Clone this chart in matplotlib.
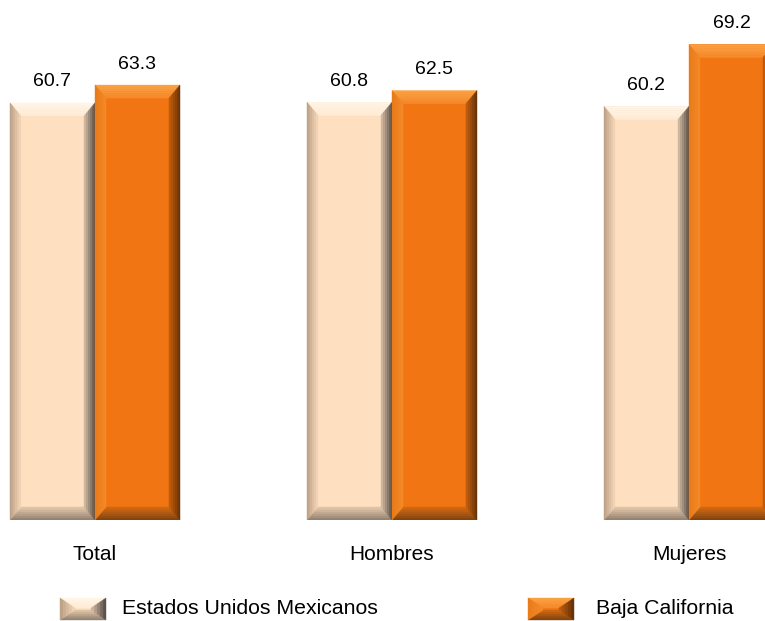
import numpy as np
import matplotlib
matplotlib.use("Agg")
import matplotlib.pyplot as plt
from matplotlib.patches import Polygon
from matplotlib.colors import to_rgb

plt.rcParams['font.family'] = ['Liberation Sans', 'DejaVu Sans']

# data
categories = ['Total', 'Hombres', 'Mujeres']
series_names = ['Estados Unidos Mexicanos', 'Baja California']
eum = [60.7, 60.8, 60.2]
bc = [63.3, 62.5, 69.2]

# colours: face, top, left, right, bottom (outer, inner)
light = dict(face='#FEE0C0',
             top=('#FFF6E8', '#FFEBD4'), left=('#B89C82', '#F6D8B8'),
             right=('#4E4640', '#D8C0A6'), bottom=('#8E7C6C', '#E4C8AA'))
orange = dict(face='#F17512',
              top=('#FBA446', '#F5882A'), left=('#E87A1A', '#F58A28'),
              right=('#5E2E06', '#C45E0E'), bottom=('#7E400C', '#D46A12'))

W, H = 765, 621
fig = plt.figure(figsize=(W / 100, H / 100), dpi=100)
ax = fig.add_axes([0, (H - 520) / H, 1, (520 - 39) / H])

spacing = 297.0
xleft = -95 / spacing
xright = (W - 95) / spacing
ax.set_xlim(xleft, xright)
ax.set_ylim(0, 70)
ax.axis('off')

bw = 85 / spacing
x = np.arange(len(categories))


def mix(c1, c2, t):
    a, b = np.array(to_rgb(c1)), np.array(to_rgb(c2))
    return tuple(a + (b - a) * t)


def bevel(axx, x0, y0, w, h, sty, px_x, px_y, bx=11, by=11, n=6):
    # px_x, px_y: data units per pixel
    for i in range(n):
        t0, t1 = i / n, (i + 1) / n
        ox0, ox1 = bx * px_x * t0, bx * px_x * t1
        oy0, oy1 = by * px_y * t0, by * px_y * t1
        t = (i + 0.5) / n
        xa, xb = x0 + ox0, x0 + w - ox0
        xc, xd = x0 + ox1, x0 + w - ox1
        ya, yb = y0 + oy0, y0 + h - oy0
        yc, yd = y0 + oy1, y0 + h - oy1
        quads = {
            'top': [(xa, yb), (xb, yb), (xd, yd), (xc, yd)],
            'bottom': [(xa, ya), (xb, ya), (xd, yc), (xc, yc)],
            'left': [(xa, ya), (xa, yb), (xc, yd), (xc, yc)],
            'right': [(xb, ya), (xb, yb), (xd, yd), (xd, yc)],
        }
        for k, pts in quads.items():
            c = mix(sty[k][0], sty[k][1], t)
            axx.add_patch(Polygon(pts, closed=True, facecolor=c,
                                  edgecolor=c, linewidth=0.3, zorder=3))


ppx = (xright - xleft) / W
ppy = 70 / (520 - 39)

bars1 = ax.bar(x - bw / 2, eum, bw, color=light['face'], zorder=2)
bars2 = ax.bar(x + bw / 2, bc, bw, color=orange['face'], zorder=2)

for bars, sty, vals in [(bars1, light, eum), (bars2, orange, bc)]:
    for b, v in zip(bars, vals):
        bevel(ax, b.get_x(), 0, b.get_width(), b.get_height(), sty, ppx, ppy,
              bx=11, by=13)
        ax.text(b.get_x() + b.get_width() / 2, v + 21 * ppy, f'{v:.1f}',
                ha='center', va='center', fontsize=14, color='black')

for xi, c in zip(x, categories):
    ax.text(xi, -35 * ppy, c, ha='center', va='center', fontsize=15,
            clip_on=False)

# legend in pixel coordinates
lax = fig.add_axes([0, 0, 1, 1], zorder=5)
lax.set_xlim(0, W)
lax.set_ylim(H, 0)
lax.axis('off')
lax.patch.set_alpha(0)

leg = [(60, 122, light), (528, 596, orange)]
for (px0, tx, sty), name in zip(leg, series_names):
    lax.add_patch(Polygon([(px0, 598), (px0 + 46, 598), (px0 + 46, 620), (px0, 620)],
                          closed=True, facecolor=sty['face'], edgecolor='none', zorder=2))
    # y axis inverted here: flip top/bottom styles
    s2 = dict(sty)
    s2['top'], s2['bottom'] = sty['bottom'], sty['top']
    bevel(lax, px0, 598, 46, 22, s2, 1, 1, bx=15, by=10, n=5)
    lax.text(tx, 609, name, ha='left', va='center', fontsize=15.3)

fig.savefig('out.png', dpi=100)
